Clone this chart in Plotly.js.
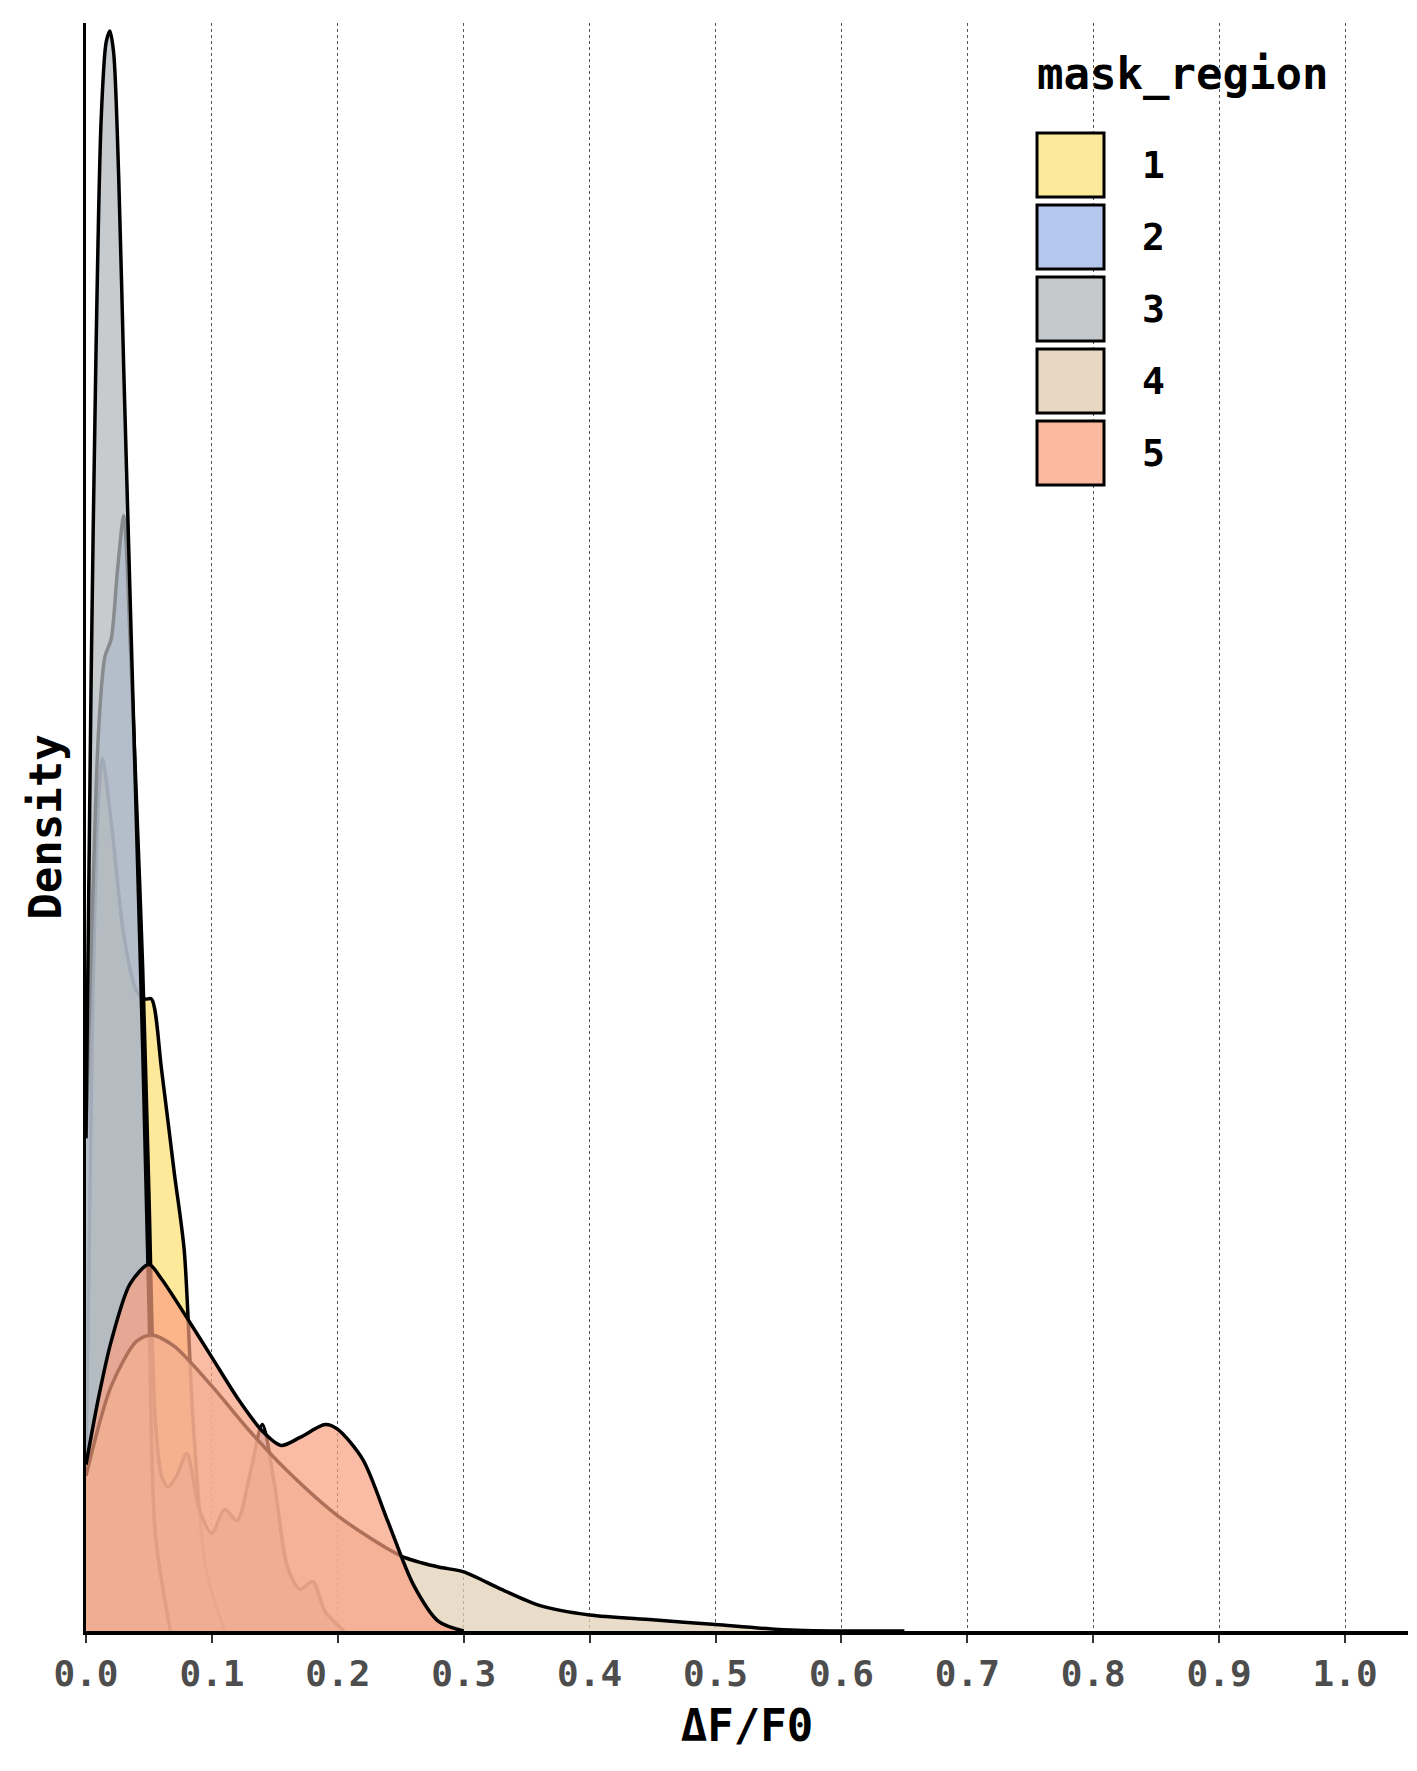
<!DOCTYPE html>
<html>
<head>
<meta charset="utf-8">
<script src="https://cdn.plot.ly/plotly-3.0.1.min.js"></script>
<style>body{margin:0;background:#fff}#chart{width:1417px;height:1771px}</style>
</head>
<body>
<div id="chart"></div>
<script>
var regions = ['1', '2', '3', '4', '5'];
var fills = ['rgba(253,222,110,0.7)', 'rgba(150,178,230,0.7)', 'rgba(180,186,190,0.75)', 'rgba(226,208,182,0.75)', 'rgba(250,160,128,0.7)'];
var swatches = ['#FDE99A', '#B4C8ED', '#C5C9CC', '#E8D8C3', '#FBB9A0'];

var x1 = [0, 0.005, 0.01, 0.013, 0.02, 0.03, 0.04, 0.047, 0.052, 0.06, 0.07, 0.078, 0.085, 0.095, 0.11];
var y1 = [9.7, 37.9, 52.0, 54.5, 50.6, 43.5, 40.0, 39.5, 39.5, 35.1, 28.7, 23.8, 13.2, 4.0, 0];

var x2 = [0, 0.005, 0.01, 0.015, 0.02, 0.025, 0.03, 0.035, 0.04, 0.045, 0.05, 0.055, 0.06, 0.065, 0.072, 0.08, 0.09, 0.1, 0.11, 0.12, 0.13, 0.14, 0.15, 0.16, 0.17, 0.18, 0.19, 0.205];
var y2 = [30.8, 45.0, 56.3, 60.9, 62.0, 66.3, 69.7, 62.0, 52.1, 41.5, 27.3, 13.2, 9.7, 9.0, 9.7, 11.1, 7.6, 6.1, 7.6, 6.9, 9.7, 12.9, 9.0, 4.0, 2.6, 3.1, 1.2, 0];

var x3 = [0, 0.004, 0.008, 0.012, 0.016, 0.019, 0.022, 0.026, 0.03, 0.035, 0.04, 0.045, 0.05, 0.055, 0.067];
var y3 = [30.8, 59.1, 80.2, 94.4, 99.3, 100, 98.6, 90.8, 78.8, 64.7, 50.6, 36.5, 20.3, 6.1, 0];

var x4 = [0, 0.02, 0.04, 0.052, 0.07, 0.1, 0.13, 0.16, 0.2, 0.25, 0.28, 0.3, 0.33, 0.36, 0.4, 0.45, 0.5, 0.55, 0.6, 0.65];
var y4 = [9.7, 15.3, 18.1, 18.5, 17.8, 15.3, 12.5, 10.0, 7.2, 4.7, 4.0, 3.7, 2.6, 1.6, 1.0, 0.7, 0.4, 0.1, 0, 0];

var x5 = [0, 0.01, 0.02, 0.035, 0.05, 0.06, 0.08, 0.1, 0.12, 0.14, 0.155, 0.17, 0.19, 0.2, 0.22, 0.24, 0.26, 0.28, 0.3];
var y5 = [10.4, 14.6, 18.1, 21.7, 22.9, 22.0, 19.6, 17.1, 14.6, 12.5, 11.6, 12.1, 12.9, 12.6, 10.7, 6.8, 2.9, 0.6, 0];

var xs = [x1, x2, x3, x4, x5];
var ys = [y1, y2, y3, y4, y5];

var mono = 'DejaVu Sans Mono';
var traces = regions.map(function(r, i) {
    return {
        x: xs[i], y: ys[i], type: 'scatter', mode: 'lines', name: r, showlegend: false,
        line: { color: '#000', width: 3.5, shape: 'spline', smoothing: 0.8 },
        fill: 'tozeroy', fillcolor: fills[i]
    };
});

// legend drawn by hand (big boxes like ggplot)
var W = 1417, H = 1771, L = 86, R = 9, T = 23, B = 140;
function px(v) { return (v - L) / (W - L - R); }
function py(v) { return (H - B - v) / (H - T - B); }

var shapes = [{
    type: 'rect', xref: 'paper', yref: 'paper', layer: 'below',
    x0: px(1020), x1: 1, y0: py(510), y1: 1,
    fillcolor: '#fff', line: { width: 0 }
}];
var annotations = [{
    xref: 'paper', yref: 'paper', x: px(1035), y: py(74), xanchor: 'left', yanchor: 'middle',
    text: '<b>mask_region</b>', showarrow: false, font: { family: mono, size: 44, color: '#000' }
}];
regions.forEach(function(r, i) {
    var top = 133 + i * 72;
    shapes.push({
        type: 'rect', xref: 'paper', yref: 'paper', layer: 'above',
        x0: px(1037), x1: px(1104), y0: py(top + 64), y1: py(top),
        fillcolor: swatches[i], line: { color: '#000', width: 3 }
    });
    annotations.push({
        xref: 'paper', yref: 'paper', x: px(1140), y: py(top + 32), xanchor: 'left', yanchor: 'middle',
        text: '<b>' + r + '</b>', showarrow: false, font: { family: mono, size: 38, color: '#000' }
    });
});

var layout = {
    width: W, height: H,
    paper_bgcolor: '#fff', plot_bgcolor: '#fff',
    margin: { l: L, r: R, t: T, b: B },
    font: { family: mono, color: '#000' },
    xaxis: {
        range: [0, 1.05], dtick: 0.1, tickformat: '.1f',
        tickfont: { family: mono, size: 36, color: '#4d4d4d', weight: 'bold' },
        showgrid: true, gridcolor: '#555', griddash: 'dot', gridwidth: 1,
        showline: true, linecolor: '#000', linewidth: 3.5,
        ticks: 'outside', ticklen: 8, tickwidth: 2, tickcolor: '#333',
        zeroline: false,
        title: { text: '<b>ΔF/F0</b>', font: { family: mono, size: 44 }, standoff: 18 }
    },
    yaxis: {
        range: [0, 100.5], showticklabels: false, ticks: '', showgrid: false,
        showline: true, linecolor: '#000', linewidth: 3, zeroline: false,
        title: { text: '<b>Density</b>', font: { family: mono, size: 44 }, standoff: 8 }
    },
    showlegend: false,
    shapes: shapes,
    annotations: annotations
};

Plotly.newPlot('chart', traces, layout, { displayModeBar: false });
</script>
</body>
</html>
